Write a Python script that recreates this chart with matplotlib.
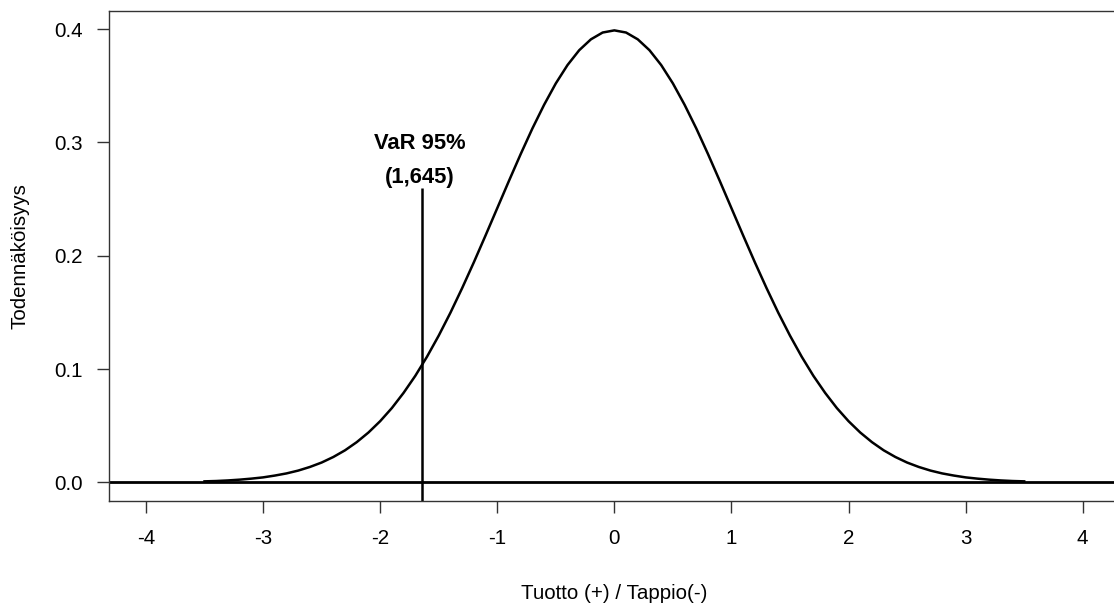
import numpy as np
import matplotlib
matplotlib.use("Agg")
import matplotlib.pyplot as plt

plt.rcParams['font.family'] = ['Liberation Sans', 'DejaVu Sans']
plt.rcParams['axes.unicode_minus'] = False

# tiheysfunktion pisteet luettu kuvasta (x = -3.5 ... 3.5, väli 0.1)
x_vals = np.round(np.arange(-35, 36) / 10, 1)
dens = [0.0009, 0.0012, 0.0017, 0.0024, 0.0033, 0.0044, 0.0060, 0.0079, 0.0104, 0.0136,
        0.0175, 0.0224, 0.0283, 0.0355, 0.0440, 0.0540, 0.0656, 0.0790, 0.0940, 0.1109,
        0.1295, 0.1497, 0.1714, 0.1942, 0.2179, 0.2420, 0.2661, 0.2897, 0.3123, 0.3332,
        0.3521, 0.3683, 0.3814, 0.3910, 0.3970, 0.3989, 0.3970, 0.3910, 0.3814, 0.3683,
        0.3521, 0.3332, 0.3123, 0.2897, 0.2661, 0.2420, 0.2179, 0.1942, 0.1714, 0.1497,
        0.1295, 0.1109, 0.0940, 0.0790, 0.0656, 0.0540, 0.0440, 0.0355, 0.0283, 0.0224,
        0.0175, 0.0136, 0.0104, 0.0079, 0.0060, 0.0044, 0.0033, 0.0024, 0.0017, 0.0012,
        0.0009]

var_x = -1.645
var_top = 0.26
var_label = ["VaR 95%", "(1,645)"]
x_ticks = [-4, -3, -2, -1, 0, 1, 2, 3, 4]
y_ticks = [0.0, 0.1, 0.2, 0.3, 0.4]

W, H = 1114, 607
fig = plt.figure(figsize=(W / 100, H / 100), dpi=100)
# akseli jatkuu oikealla kuvan reunan yli (kuten alkuperäisessä)
ax = fig.add_axes([108.5 / W, (H - 500.5) / H, 1011.7 / W, 489.5 / H])

ax.plot(x_vals, dens, color='black', lw=1.8)
ax.axhline(0, color='black', lw=2)
ax.vlines(var_x, -0.1, var_top, color='black', lw=1.8)

ax.text(-1.665, 0.2994, var_label[0], ha='center', va='center',
        fontsize=15.8, fontweight='bold')
ax.text(-1.665, 0.2694, var_label[1], ha='center', va='center',
        fontsize=15.8, fontweight='bold')

ax.set_xlim(-4.32, 4.32)
ax.set_ylim(-0.016, 0.416)
ax.set_xticks(x_ticks)
ax.set_xticklabels([str(t) for t in x_ticks])
ax.set_yticks(y_ticks)
ax.set_yticklabels(["%.1f" % t for t in y_ticks])

for s in ['left', 'top', 'bottom']:
    ax.spines[s].set_color('#333333')
    ax.spines[s].set_linewidth(1)
ax.spines['right'].set_visible(False)
ax.tick_params(axis='both', length=8.6, width=1, color='#333333',
               labelsize=14.8, labelcolor='black')
ax.tick_params(axis='x', pad=12)
ax.tick_params(axis='y', pad=10)

ax.set_xlabel("Tuotto (+) / Tappio(-)", fontsize=14.8, va='center')
ax.xaxis.set_label_coords(0.5, -0.189)
ax.set_ylabel("Todennäköisyys", fontsize=14.8, va='center')
ax.yaxis.set_label_coords(-0.0875, 0.5)

fig.savefig("out.png", dpi=100)
